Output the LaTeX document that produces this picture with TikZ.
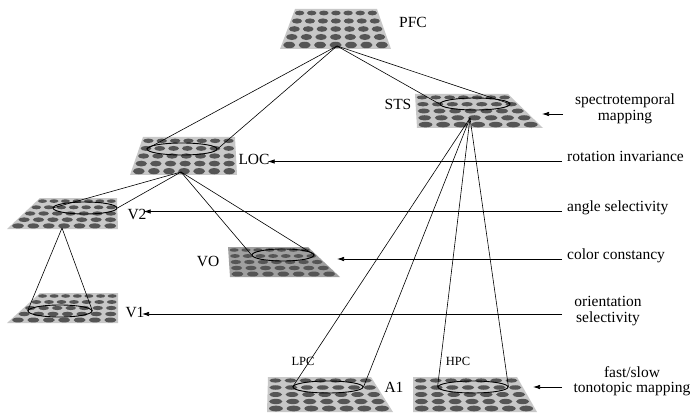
\documentclass[tikz,border=0pt]{standalone}
\usepackage{fontspec}
\setmainfont{Liberation Serif}
\usetikzlibrary{arrows.meta,shapes.geometric}
\definecolor{platecol}{HTML}{C8C8C8}
\definecolor{platedark}{HTML}{A0A0A0}
\definecolor{dotcol}{HTML}{555555}
\newcommand{\plate}[7]{% #1 fill, #2 ytop, #3 ybot, #4 xTL, #5 xTR, #6 xBL, #7 xBR
  \fill[#1] (#4,#2) -- (#5,#2) -- (#7,#3) -- (#6,#3) -- cycle;
  \foreach \i in {0,...,4}{
    \pgfmathsetmacro\vv{(\i+0.5)/5}
    \pgfmathsetmacro\yy{#2+(#3-#2)*\vv}
    \pgfmathsetmacro\xl{#4+(#6-#4)*\vv}
    \pgfmathsetmacro\xr{#5+(#7-#5)*\vv}
    \pgfmathsetmacro\ww{(\xr-\xl)/7}
    \pgfmathsetmacro\rx{0.39*\ww}
    \pgfmathsetmacro\ry{(#3-#2)/5*(0.28+0.14*\vv)}
    \foreach \j in {0,...,6}{
      \fill[dotcol] ({\xl+\ww*(\j+0.5)},\yy) ellipse [x radius=\rx pt, y radius=\ry pt];
    }
  }
}
\begin{document}
\begin{tikzpicture}[x=1pt,y=-1pt,
  lab/.style={inner sep=0pt, font=\fontsize{15.5}{15.5}\selectfont},
  small/.style={inner sep=0pt, font=\fontsize{12.5}{13}\selectfont},
  ell/.style={ellipse, draw=black, line width=0.9pt, inner sep=0pt, minimum height=12pt},
  ln/.style={line width=0.6pt},
  arr/.style={line width=0.7pt, -{Latex[length=7pt,width=4.5pt]}}]
\useasboundingbox (0,0) rectangle (690,414);
% plates
\plate{platecol}{9}{49}{295}{377}{280}{391}
\plate{platecol}{94}{128}{415}{508}{417}{543}
\plate{platecol}{137}{175}{143}{235}{130}{237}
\plate{platecol}{198}{229}{40}{117}{7}{118}
\plate{platedark}{247}{277}{228}{308}{230}{340}
\plate{platecol}{293}{323}{40}{118}{7}{118}
\plate{platecol}{377}{412}{268}{371}{267}{393}
\plate{platecol}{377}{412}{413}{517}{413}{537}
% ellipses
\node[ell, minimum width=70pt] (eSTS) at (475,104) {};
\node[ell, minimum width=70pt] (eLOC) at (182,149) {};
\node[ell, minimum width=64pt] (eV2) at (85,208) {};
\node[ell, minimum width=62pt] (eVO) at (283,255) {};
\node[ell, minimum width=64pt] (eV1) at (60,311) {};
\node[ell, minimum width=70pt] (eLPC) at (328,387) {};
\node[ell, minimum width=70pt] (eHPC) at (473,387) {};
% apexes
\coordinate (aPFC) at (337,46);
\coordinate (aLOC) at (181,172);
\coordinate (aV2) at (62,228);
\coordinate (aSTS) at (470,118);
\draw[ln] (aPFC) -- (eLOC.west);
\draw[ln] (aPFC) -- (eLOC.east);
\draw[ln] (aPFC) -- (eSTS.west);
\draw[ln] (aPFC) -- (eSTS.east);
\draw[ln] (aLOC) -- (eV2.west);
\draw[ln] (aLOC) -- (eV2.east);
\draw[ln] (aLOC) -- (eVO.west);
\draw[ln] (aLOC) -- (eVO.east);
\draw[ln] (aV2) -- (eV1.west);
\draw[ln] (aV2) -- (eV1.east);
\draw[ln] (aSTS) -- (eLPC.west);
\draw[ln] (aSTS) -- (eLPC.east);
\draw[ln] (aSTS) -- (eHPC.west);
\draw[ln] (aSTS) -- (eHPC.east);
% area labels
\node[lab] (PFC) at (413,22) {PFC};
\node[lab] (STS) at (398,104) {STS};
\node[lab] (LOC) at (254,159) {LOC};
\node[lab] (V2) at (137,214) {V2};
\node[lab] (VO) at (208,261) {VO};
\node[lab] (V1) at (135,312) {V1};
\node[lab] (A1) at (394,387) {A1};
\node[small] (LPC) at (303,361) {LPC};
\node[small] (HPC) at (458,361) {HPC};
% function labels
\node[lab, align=center] (spec) at (625,109) {spectrotemporal\\mapping};
\node[lab, anchor=base west] (rot) at (567,161.5) {rotation invariance};
\node[lab, anchor=base west] (ang) at (567,211.5) {angle selectivity};
\node[lab, anchor=base west] (col) at (567,259) {color constancy};
\node[lab, align=center] (ori) at (608,311) {orientation\\selectivity};
\node[lab, align=center] (fast) at (632,381) {fast/slow\\tonotopic mapping};
% arrows
\coordinate (sSTS) at (563,114);
\coordinate (tSTS) at (542,114);
\coordinate (tVO) at (337,259);
\coordinate (sOri) at (562,314);
\coordinate (tV1) at (142,314);
\coordinate (sA1) at (562,387);
\coordinate (tA1) at (533,387);
\draw[arr] (sSTS) -- (tSTS);
\draw[arr] ([xshift=-5pt]rot.base west) -- ([xshift=-2pt]LOC.east |- rot.base west);
\draw[arr] ([xshift=-5pt]ang.base west) -- ([xshift=-3pt]V2.east |- ang.base west);
\draw[arr] ([xshift=-5pt]col.base west) -- (tVO);
\draw[arr] (sOri) -- (tV1);
\draw[arr] (sA1) -- (tA1);
\end{tikzpicture}
\end{document}
